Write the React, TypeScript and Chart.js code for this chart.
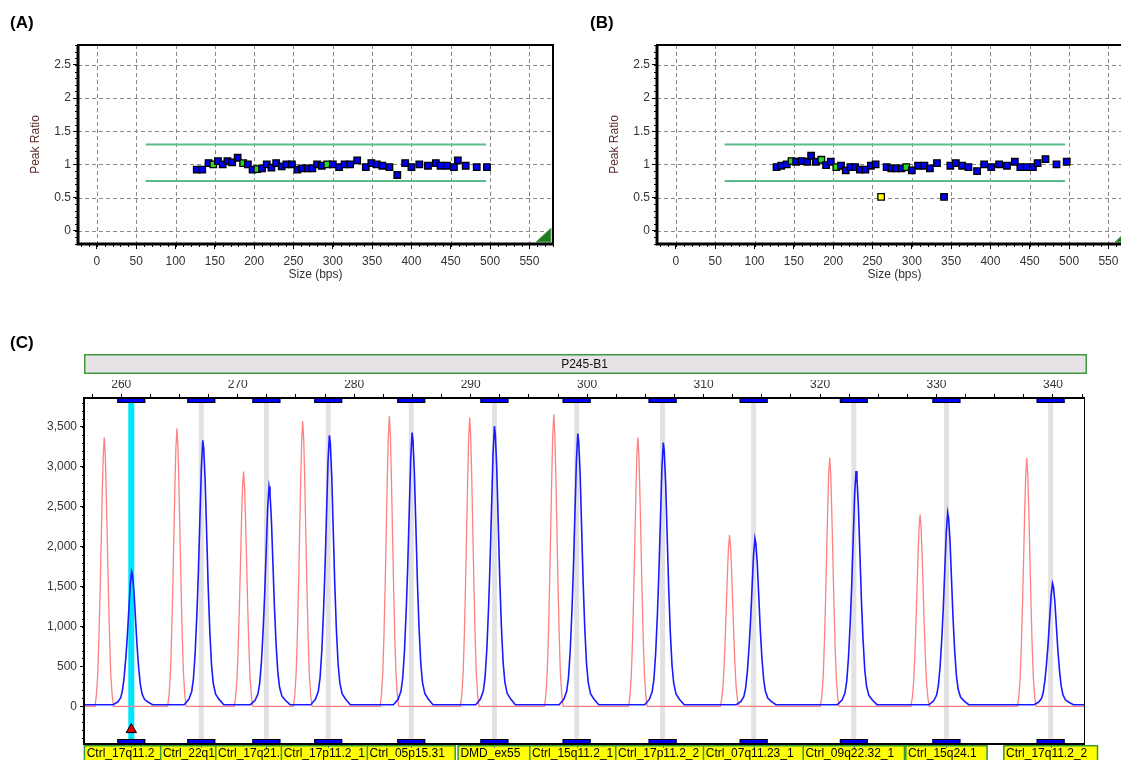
import React, { useEffect, useRef } from 'react';
import { Chart, registerables } from 'chart.js';

Chart.register(...registerables);

const FONT = "'Liberation Sans', Arial, Helvetica, sans-serif";
Chart.defaults.font.family = FONT;
Chart.defaults.font.size = 12;
Chart.defaults.color = '#333';

// ---------------- Panel A (peak ratios) ----------------
const sizesA = [127, 134, 142, 148, 154, 160, 166, 172, 179, 186, 192, 198, 204, 210, 216, 222, 228, 235, 241, 248, 255, 261, 268, 274, 280, 286, 293, 300, 308, 315, 322, 331, 342, 349, 356, 363, 372, 382, 392, 400, 410, 421, 431, 437, 445, 454, 459, 469, 483, 496];
const ratiosA = [0.92, 0.92, 1.02, 1.0, 1.05, 1.0, 1.05, 1.03, 1.1, 1.02, 1.0, 0.92, 0.93, 0.94, 1.0, 0.95, 1.02, 0.97, 1.0, 1.0, 0.92, 0.94, 0.94, 0.94, 1.0, 0.98, 1.0, 1.0, 0.96, 1.0, 1.0, 1.06, 0.96, 1.02, 1.0, 0.98, 0.96, 0.84, 1.02, 0.96, 1.0, 0.98, 1.02, 0.98, 0.98, 0.96, 1.06, 0.98, 0.96, 0.96];
const referenceSizesA = [148, 186, 204, 293];
const flaggedSizesA: number[] = [];

// ---------------- Panel B (peak ratios) ----------------
const sizesB = [128, 134, 141, 147, 153, 160, 167, 172, 178, 185, 191, 197, 204, 210, 216, 222, 228, 234, 241, 248, 254, 261, 268, 274, 280, 287, 293, 300, 308, 316, 323, 332, 341, 349, 356, 364, 372, 383, 392, 401, 411, 421, 431, 438, 446, 454, 460, 470, 484, 497];
const ratiosB = [0.96, 0.98, 1.0, 1.05, 1.04, 1.05, 1.04, 1.13, 1.04, 1.07, 0.99, 1.04, 0.96, 0.98, 0.91, 0.96, 0.96, 0.92, 0.92, 0.98, 1.0, 0.51, 0.96, 0.94, 0.94, 0.94, 0.96, 0.91, 0.98, 0.98, 0.94, 1.02, 0.51, 0.98, 1.02, 0.98, 0.96, 0.9, 1.0, 0.96, 1.0, 0.98, 1.04, 0.96, 0.96, 0.96, 1.02, 1.08, 1.0, 1.04];
const referenceSizesB = [147, 185, 204, 293];
const flaggedSizesB = [261];

const upperLimit = 1.3;
const lowerLimit = 0.75;
const limitSpan = [62, 495];

const sizeTicks = [0, 50, 100, 150, 200, 250, 300, 350, 400, 450, 500, 550];
const ratioTicks = [0, 0.5, 1, 1.5, 2, 2.5];
const sizeRange = [-24, 580];
const ratioRange = [-0.2, 2.8];
const sizeMinorStep = 10;
const ratioMinorStep = 0.1;

// ---------------- Panel C (electropherogram) ----------------
const trackLabel = 'P245-B1';
const probeSizes = [260.86, 266.87, 272.46, 277.77, 284.9, 292.04, 299.1, 306.48, 314.3, 322.9, 330.85, 339.8];
const probeNames = ['Ctrl_17q11.2_1', 'Ctrl_22q12.3', 'Ctrl_17q21.31_1', 'Ctrl_17p11.2_1', 'Ctrl_05p15.31', 'DMD_ex55', 'Ctrl_15q11.2_1', 'Ctrl_17p11.2_2', 'Ctrl_07q11.23_1', 'Ctrl_09q22.32_1', 'Ctrl_15q24.1', 'Ctrl_17q11.2_2'];
const selectedProbe = 0;
const binHalfWidth = 1.2;

const redPeakSizes = [258.54, 264.78, 270.5, 275.58, 283.02, 289.92, 297.14, 304.36, 312.23, 320.83, 328.59, 337.75];
const redPeakHeights = [3365, 3478, 2941, 3570, 3633, 3616, 3654, 3365, 2145, 3113, 2397, 3109];
const bluePeakSizes = [260.89, 267.0, 272.69, 277.87, 284.97, 292.04, 299.2, 306.54, 314.41, 323.09, 330.96, 339.96];
const bluePeakHeights = [1689, 3331, 2753, 3394, 3427, 3507, 3415, 3302, 2103, 2946, 2426, 1542];
const redBaseline = 0;
const blueBaseline = 22;
const markerLevel = -290;

// peak outline templates: [offset in bp from apex, fraction of peak height]
const redShape = [[-0.8, 0], [-0.68, 0.04], [-0.56, 0.12], [-0.46, 0.25], [-0.36, 0.42], [-0.27, 0.6], [-0.18, 0.78], [-0.09, 0.93], [0, 1], [0.09, 0.93], [0.18, 0.78], [0.27, 0.6], [0.36, 0.42], [0.46, 0.25], [0.56, 0.12], [0.68, 0.04], [0.8, 0]];
const blueShape = [[-1.6, 0], [-1.2, 0.02], [-0.95, 0.05], [-0.8, 0.1], [-0.65, 0.2], [-0.5, 0.35], [-0.38, 0.5], [-0.25, 0.7], [-0.12, 0.9], [0, 1], [0.08, 0.97], [0.2, 0.85], [0.33, 0.65], [0.46, 0.45], [0.6, 0.28], [0.75, 0.15], [0.9, 0.08], [1.1, 0.04], [1.4, 0.02], [1.8, 0]];

const bpRange = [256.8, 342.75];
const bpLabelTicks = [260, 270, 280, 290, 300, 310, 320, 330, 340];
const bpMinorStep = 2.5;
const signalTicks = [0, 500, 1000, 1500, 2000, 2500, 3000, 3500];
const signalRange = [-470, 3860];
const signalMinorStep = 100;

function buildTrace(sizes: number[], heights: number[], shape: number[][], base: number) {
  const pts: { x: number; y: number }[] = [{ x: bpRange[0], y: base }];
  sizes.forEach((c, i) => {
    shape.forEach(([dx, f]) => pts.push({ x: c + dx, y: base + f * (heights[i] - base) }));
  });
  pts.push({ x: bpRange[1], y: base });
  return pts;
}

function range(from: number, to: number, step: number) {
  const out: number[] = [];
  const start = Math.ceil(from / step - 1e-9) * step;
  for (let v = start; v <= to + 1e-9; v += step) out.push(Math.round(v * 1000) / 1000);
  return out;
}

// ---------------- ratio panel plugin ----------------
const ratioPanelPlugin = {
  id: 'ratioPanel',
  beforeDatasetsDraw(chart: any) {
    const { ctx, chartArea: a, scales } = chart;
    const x = scales.x, y = scales.y;
    ctx.save();
    ctx.strokeStyle = '#8a8a8a';
    ctx.lineWidth = 1;
    ctx.setLineDash([4, 3]);
    ctx.beginPath();
    sizeTicks.forEach((v) => {
      const p = Math.round(x.getPixelForValue(v)) + 0.5;
      ctx.moveTo(p, a.top);
      ctx.lineTo(p, a.bottom);
    });
    ratioTicks.forEach((v) => {
      const p = Math.round(y.getPixelForValue(v)) + 0.5;
      ctx.moveTo(a.left, p);
      ctx.lineTo(a.right, p);
    });
    ctx.stroke();
    ctx.restore();
  },
  afterDatasetsDraw(chart: any) {
    const { ctx, chartArea: a, scales } = chart;
    const x = scales.x, y = scales.y;
    ctx.save();
    // corner triangle
    ctx.beginPath();
    ctx.moveTo(a.right - 2, a.bottom - 2);
    ctx.lineTo(a.right - 17, a.bottom - 2);
    ctx.lineTo(a.right - 2, a.bottom - 16);
    ctx.closePath();
    ctx.fillStyle = '#1d7a1d';
    ctx.fill();
    ctx.strokeStyle = '#6aa86a';
    ctx.lineWidth = 1;
    ctx.stroke();
    // frame
    ctx.strokeStyle = '#000';
    ctx.lineWidth = 2;
    ctx.strokeRect(a.left, a.top, a.right - a.left, a.bottom - a.top);
    ctx.lineWidth = 3;
    ctx.beginPath();
    ctx.moveTo(a.left, a.top);
    ctx.lineTo(a.left, a.bottom);
    ctx.lineTo(a.right, a.bottom);
    ctx.stroke();
    // minor ticks
    ctx.lineWidth = 1;
    ctx.beginPath();
    range(sizeRange[0], sizeRange[1], sizeMinorStep).forEach((v) => {
      const p = Math.round(x.getPixelForValue(v)) + 0.5;
      ctx.moveTo(p, a.bottom);
      ctx.lineTo(p, a.bottom + 3);
    });
    range(ratioRange[0], ratioRange[1], ratioMinorStep).forEach((v) => {
      const p = Math.round(y.getPixelForValue(v)) + 0.5;
      ctx.moveTo(a.left, p);
      ctx.lineTo(a.left - 3, p);
    });
    ctx.stroke();
    ctx.restore();
  },
};

function RatioPanel(props: { left: number; sizes: number[]; ratios: number[]; refs: number[]; flagged: number[] }) {
  const ref = useRef<HTMLCanvasElement>(null);
  const { left, sizes, ratios, refs, flagged } = props;
  useEffect(() => {
    if (!ref.current) return;
    const colorFor = (s: number) => (flagged.includes(s) ? '#ffff00' : refs.includes(s) ? '#22dd22' : '#0000f0');
    const chart = new Chart(ref.current, {
      type: 'scatter',
      data: {
        datasets: [
          {
            data: sizes.map((s, i) => ({ x: s, y: ratios[i] })),
            pointStyle: 'rect',
            pointRadius: 4.6,
            pointBackgroundColor: sizes.map(colorFor),
            pointBorderColor: '#000',
            pointBorderWidth: 1.3,
          } as any,
          {
            data: [{ x: limitSpan[0], y: upperLimit }, { x: limitSpan[1], y: upperLimit }],
            showLine: true,
            borderColor: '#5dba8b',
            borderWidth: 2,
            pointRadius: 0,
          } as any,
          {
            data: [{ x: limitSpan[0], y: lowerLimit }, { x: limitSpan[1], y: lowerLimit }],
            showLine: true,
            borderColor: '#5dba8b',
            borderWidth: 2,
            pointRadius: 0,
          } as any,
        ],
      },
      options: {
        responsive: false,
        animation: false,
        events: [],
        layout: { padding: { left: 28, right: 17, top: 45, bottom: 8 } },
        plugins: { legend: { display: false }, tooltip: { enabled: false } },
        scales: {
          x: {
            type: 'linear',
            min: sizeRange[0],
            max: sizeRange[1],
            afterBuildTicks: (s: any) => { s.ticks = sizeTicks.map((v) => ({ value: v })); },
            afterFit: (s: any) => { s.height = 38; },
            ticks: { color: '#333', padding: 5, autoSkip: false, maxRotation: 0, font: { size: 12 }, callback: (v: any) => String(v) },
            grid: { drawOnChartArea: false, tickLength: 5, color: '#000' },
            border: { display: false },
            title: { display: true, text: 'Size (bps)', color: '#333', font: { size: 12 }, padding: 0 },
          },
          y: {
            type: 'linear',
            min: ratioRange[0],
            max: ratioRange[1],
            afterBuildTicks: (s: any) => { s.ticks = ratioTicks.map((v) => ({ value: v })); },
            afterFit: (s: any) => { s.width = 50; },
            ticks: { color: '#333', padding: 2, autoSkip: false, font: { size: 12 }, callback: (v: any) => String(v) },
            grid: { drawOnChartArea: false, tickLength: 5, color: '#000' },
            border: { display: false },
            title: { display: true, text: 'Peak Ratio', color: '#5a2a2a', font: { size: 12 }, padding: 0 },
          },
        },
      } as any,
      plugins: [ratioPanelPlugin],
    });
    return () => chart.destroy();
  }, []);
  return (
    <canvas ref={ref} width={570} height={290} style={{ position: 'absolute', left, top: 0, width: 570, height: 290 }} />
  );
}

// ---------------- electropherogram plugin ----------------
const epgPlugin = {
  id: 'epg',
  beforeDatasetsDraw(chart: any) {
    const { ctx, chartArea: a, scales } = chart;
    const x = scales.x;
    ctx.save();
    probeSizes.forEach((s, i) => {
      if (i === selectedProbe) return;
      const p = x.getPixelForValue(s);
      ctx.fillStyle = '#e4e1e4';
      ctx.fillRect(p - 2.5, a.top, 5, a.bottom - a.top);
    });
    const ps = x.getPixelForValue(probeSizes[selectedProbe]);
    ctx.fillStyle = '#00e5ff';
    ctx.fillRect(ps - 3, a.top, 6, a.bottom - a.top);
    ctx.restore();
  },
  afterDatasetsDraw(chart: any) {
    const { ctx, chartArea: a, scales } = chart;
    const x = scales.x, y = scales.y;
    ctx.save();
    // bins top and bottom
    probeSizes.forEach((s) => {
      const x1 = x.getPixelForValue(s - binHalfWidth);
      const x2 = x.getPixelForValue(s + binHalfWidth);
      [a.top, a.bottom - 5].forEach((yy) => {
        ctx.fillStyle = '#0000ff';
        ctx.fillRect(x1, yy, x2 - x1, 5);
        ctx.strokeStyle = '#000';
        ctx.lineWidth = 1;
        ctx.strokeRect(x1 + 0.5, yy + 0.5, x2 - x1 - 1, 4);
      });
    });
    // frame
    ctx.strokeStyle = '#000';
    ctx.lineWidth = 1;
    ctx.strokeRect(a.left + 0.5, a.top + 0.5, a.right - a.left - 1, a.bottom - a.top - 1);
    ctx.lineWidth = 2;
    ctx.beginPath();
    ctx.moveTo(a.right, a.top);
    ctx.lineTo(a.left, a.top);
    ctx.lineTo(a.left, a.bottom);
    ctx.lineTo(a.right, a.bottom);
    ctx.stroke();
    // minor y ticks
    ctx.lineWidth = 1;
    ctx.beginPath();
    range(signalRange[0], signalRange[1], signalMinorStep).forEach((v) => {
      const p = Math.round(y.getPixelForValue(v)) + 0.5;
      ctx.moveTo(a.left, p);
      ctx.lineTo(a.left - 2, p);
    });
    ctx.stroke();
    ctx.restore();
  },
  afterDraw(chart: any) {
    const { ctx, chartArea: a, scales } = chart;
    const x = scales.x;
    ctx.save();
    // sample track bar above
    const barTop = 24, barH = 20;
    ctx.fillStyle = '#e6e2e6';
    ctx.fillRect(a.left, barTop, a.right - a.left + 2, barH);
    ctx.strokeStyle = '#3c9c3c';
    ctx.lineWidth = 1.5;
    ctx.strokeRect(a.left + 0.75, barTop + 0.75, a.right - a.left + 0.5, barH - 1.5);
    ctx.fillStyle = '#111';
    ctx.font = `12px ${FONT}`;
    ctx.textAlign = 'center';
    ctx.textBaseline = 'middle';
    ctx.fillText(trackLabel, (a.left + a.right) / 2, barTop + barH / 2 + 1);
    // probe labels below
    ctx.textAlign = 'left';
    const T = a.bottom + 1, H = 22;
    probeNames.forEach((name, i) => {
      const c = x.getPixelForValue(probeSizes[i]);
      const w = ctx.measureText(name).width + 14;
      const L = Math.max(c - w / 2, a.left - 1);
      ctx.fillStyle = '#ffff00';
      ctx.fillRect(L, T, w, H);
      ctx.strokeStyle = '#3a9a3a';
      ctx.lineWidth = 1.5;
      ctx.strokeRect(L + 0.75, T + 0.75, w - 1.5, H - 1.5);
      ctx.save();
      ctx.beginPath();
      ctx.rect(L + 1.5, T, w - 3, H);
      ctx.clip();
      ctx.fillStyle = '#000';
      ctx.fillText(name, L + 3, T + 8.5);
      ctx.restore();
      ctx.strokeStyle = '#3a9a3a';
      ctx.lineWidth = 1;
      ctx.beginPath();
      ctx.moveTo(Math.round(c) + 0.5, T);
      ctx.lineTo(Math.round(c) + 0.5, T + 3);
      ctx.stroke();
    });
    ctx.restore();
  },
};

function TraceChart() {
  const ref = useRef<HTMLCanvasElement>(null);
  useEffect(() => {
    if (!ref.current) return;
    const bpTickValues = range(bpRange[0], bpRange[1], bpMinorStep);
    const chart = new Chart(ref.current, {
      type: 'scatter',
      data: {
        datasets: [
          {
            data: [{ x: probeSizes[selectedProbe], y: markerLevel }],
            pointStyle: 'triangle',
            pointRadius: 6,
            pointBackgroundColor: '#e00000',
            pointBorderColor: '#000',
            pointBorderWidth: 1,
          } as any,
          {
            data: buildTrace(bluePeakSizes, bluePeakHeights, blueShape, blueBaseline),
            showLine: true,
            borderColor: '#1a1aff',
            borderWidth: 1.6,
            pointRadius: 0,
            tension: 0,
          } as any,
          {
            data: buildTrace(redPeakSizes, redPeakHeights, redShape, redBaseline),
            showLine: true,
            borderColor: '#ff8080',
            borderWidth: 1.3,
            pointRadius: 0,
          } as any,
        ],
      },
      options: {
        responsive: false,
        animation: false,
        events: [],
        layout: { padding: { left: 24, right: 36, top: 50, bottom: 26 } },
        plugins: { legend: { display: false }, tooltip: { enabled: false } },
        scales: {
          x: {
            type: 'linear',
            position: 'top',
            min: bpRange[0],
            max: bpRange[1],
            afterBuildTicks: (s: any) => { s.ticks = bpTickValues.map((v) => ({ value: v })); },
            afterFit: (s: any) => { s.height = 18; },
            ticks: {
              color: '#333',
              padding: 2,
              autoSkip: false,
              maxRotation: 0,
              font: { size: 12 },
              callback: (v: any) => (bpLabelTicks.includes(Number(v)) ? String(v) : ''),
            },
            grid: { drawOnChartArea: false, tickLength: 4, color: '#000' },
            border: { display: false },
          },
          y: {
            type: 'linear',
            min: signalRange[0],
            max: signalRange[1],
            afterBuildTicks: (s: any) => { s.ticks = signalTicks.map((v) => ({ value: v })); },
            afterFit: (s: any) => { s.width = 60; },
            ticks: {
              color: '#333',
              padding: 3,
              autoSkip: false,
              font: { size: 12 },
              callback: (v: any) => Number(v).toLocaleString('en-US'),
            },
            grid: { drawOnChartArea: false, tickLength: 4, color: '#000' },
            border: { display: false },
          },
        },
      } as any,
      plugins: [epgPlugin],
    });
    return () => chart.destroy();
  }, []);
  return (
    <canvas ref={ref} width={1121} height={440} style={{ position: 'absolute', left: 0, top: 330, width: 1121, height: 440 }} />
  );
}

const panelLabel = (left: number, top: number): React.CSSProperties => ({
  position: 'absolute',
  left,
  top,
  font: `bold 17px ${FONT}`,
  lineHeight: '20px',
  color: '#000',
});

export default function App() {
  return (
    <div style={{ position: 'fixed', left: 0, top: 0, width: 1121, height: 760, overflow: 'hidden', background: '#fff' }}>
      <RatioPanel left={0} sizes={sizesA} ratios={ratiosA} refs={referenceSizesA} flagged={flaggedSizesA} />
      <RatioPanel left={579} sizes={sizesB} ratios={ratiosB} refs={referenceSizesB} flagged={flaggedSizesB} />
      <TraceChart />
      <div style={panelLabel(10, 13)}>(A)</div>
      <div style={panelLabel(590, 13)}>(B)</div>
      <div style={panelLabel(10, 333)}>(C)</div>
    </div>
  );
}
